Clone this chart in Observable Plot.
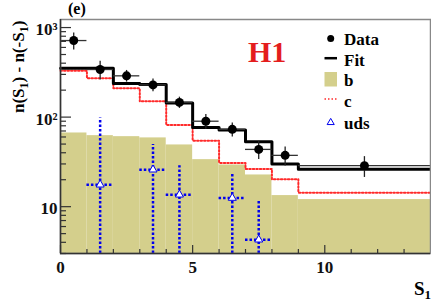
<!DOCTYPE html>
<html><head><meta charset="utf-8">
<script src="https://cdn.jsdelivr.net/npm/d3@7"></script>
<script src="https://cdn.jsdelivr.net/npm/@observablehq/plot@0.6"></script>
<style>
body{margin:0;background:#fff;}
#wrap{position:relative;width:431px;height:301px;overflow:hidden;font-family:"Liberation Serif",serif;}
#wrap svg.ov{position:absolute;left:0;top:0;pointer-events:none;}
#wrap text{font-family:"Liberation Serif",serif;}
</style></head><body><div id="wrap"></div>
<script>
// ---- data ----
const binLo  = [0, 1, 2, 3, 4, 5, 6, 7, 8, 9];
const binHi  = [1, 2, 3, 4, 5, 6, 7, 8, 9, 14];
const dataVal = [716, 340, 289, 229, 146, 90, 73, 43.6, 37.4, 28.7];
const dataErr = [155, 80, 43, 37, 21, 17, 13, 10, 9, 7.5];
const fitVal  = [351, 351, 237, 232, 144, 76.4, 71.9, 53.2, 29.9, 26.2];
const bVal    = [66.5, 62.1, 60.5, 58.6, 48.9, 33.5, 29.2, 22.6, 13.3, 12.0];
const cVal    = [330, 272, 210, 150, 81.8, 54.6, 30.8, 26.4, 20.2, 14.3];
const udsX    = [1.5, 3.5, 4.5, 6.5, 7.5];
const udsVal  = [17.6, 25.9, 13.6, 12.5, 4.28];
const udsErr  = [80, 23.4, 15.1, 10.3, 7.6];
const xMajorTicks = [0, 5, 10];
const xMinorTicks = [1, 2, 3, 4, 6, 7, 8, 9, 11, 12, 13];
const yMajorTicks = [10, 100, 1000];
const yTickLabels = ["10", "10\u00b2", "10\u00b3"];
const yMinorTicks = [3,4,5,6,7,8,9,20,30,40,50,60,70,80,90,200,300,400,500,600,700,800,900];
const yMin = 3, yMax = 1230, xMax = 14;

const bins = binLo.map((lo, i) => ({lo, hi: binHi[i], mid: (lo + binHi[i]) / 2,
  data: dataVal[i], err: dataErr[i], fit: fitVal[i], b: bVal[i], c: cVal[i]}));
const stepPts = vals => binLo.map((lo, i) => ({x: lo, y: vals[i]}))
  .concat([{x: binHi[binHi.length - 1], y: vals[vals.length - 1]}]);
const uds = udsX.map((x, i) => ({x, v: udsVal[i], e: udsErr[i]}));

const olive = "#d4cf8c", red = "#ff2a2a", blue = "#0000ee";
const font = "Liberation Serif";

const chart = Plot.plot({
  width: 431, height: 301,
  marginLeft: 60, marginRight: 1, marginTop: 19, marginBottom: 48,
  style: {fontFamily: font, fontWeight: "bold", background: "#fff", color: "#111"},
  x: {type: "linear", domain: [0, xMax]},
  y: {type: "log", domain: [yMin, yMax]},
  marks: [
    Plot.rect(bins, {x1: "lo", x2: "hi", y1: yMin, y2: "b", fill: olive}),
    Plot.line(stepPts(cVal), {x: "x", y: "y", curve: "step-after", stroke: red, strokeWidth: 2, strokeDasharray: "1.5,2"}),
    Plot.line(stepPts(fitVal), {x: "x", y: "y", curve: "step-after", stroke: "#000", strokeWidth: 3}),
    Plot.ruleX(uds, {x: "x", y1: d => Math.max(yMin, d.v - d.e), y2: d => d.v + d.e, stroke: blue, strokeWidth: 2.5, strokeDasharray: "2.5,2"}),
    Plot.ruleY(uds, {y: "v", x1: d => d.x - 0.5, x2: d => d.x + 0.5, stroke: blue, strokeWidth: 2.5, strokeDasharray: "2.5,2"}),
    Plot.dot(uds, {x: "x", y: "v", symbol: "triangle", r: 3, stroke: blue, strokeWidth: 1, fill: "#fff"}),
    Plot.ruleY(bins, {y: "data", x1: "lo", x2: "hi", stroke: "#333", strokeWidth: 1.3}),
    Plot.ruleX(bins, {x: "mid", y1: d => d.data - d.err, y2: d => d.data + d.err, stroke: "#222", strokeWidth: 1.3}),
    Plot.dot(bins, {x: "mid", y: "data", r: 4.5, fill: "#000"}),
    Plot.frame({stroke: "#888", strokeWidth: 1.5}),
    Plot.ruleX([0], {stroke: "#333", strokeWidth: 1.5}),
    Plot.ruleY([yMin], {stroke: "#333", strokeWidth: 1.5}),
    Plot.axisX({ticks: xMajorTicks, tickSize: -8, fill: "none", stroke: "#333", strokeWidth: 1.2, label: null}),
    Plot.axisX({ticks: xMinorTicks, tickSize: -4, fill: "none", stroke: "#333", strokeWidth: 1.2, label: null}),
    Plot.axisY({ticks: yMajorTicks, tickSize: -11, fill: "none", stroke: "#333", strokeWidth: 1.2, label: null}),
    Plot.axisY({ticks: yMinorTicks, tickSize: -6, fill: "none", stroke: "#333", strokeWidth: 1.2, label: null}),
    Plot.axisX({ticks: xMajorTicks, tickSize: 0, tickPadding: 7, fontSize: 17, fontWeight: "bold", fontFamily: font, fill: "#111", label: null, tickFormat: d => String(d)}),
    Plot.axisY({ticks: yMajorTicks, tickSize: 0, tickPadding: 3, dy: 2, fontSize: 17, fontWeight: "bold", fontFamily: font, fill: "#111", label: null,
      tickFormat: d => yTickLabels[yMajorTicks.indexOf(d)]})
  ]
});
const wrap = document.getElementById("wrap");
wrap.appendChild(chart);

// ---- annotations & legend overlay ----
const ov = d3.select(wrap).append("svg").attr("class", "ov")
  .attr("width", 431).attr("height", 301)
  .attr("font-family", font).attr("font-weight", "bold");
ov.append("text").attr("x", 68).attr("y", 13.5).attr("font-size", 16).text("(e)");
ov.append("text").attr("x", 248).attr("y", 61.5).attr("font-size", 30).attr("fill", "#e41d1d").text("H1");
const sx = ov.append("text").attr("x", 414).attr("y", 295).attr("font-size", 19);
sx.append("tspan").text("S");
sx.append("tspan").attr("font-size", 13).attr("dy", 4).text("1");
const yt = ov.append("text").attr("transform", "translate(24,113) rotate(-90)").attr("font-size", 17);
yt.append("tspan").text("n(S");
yt.append("tspan").attr("font-size", 12).attr("dy", 4).text("1");
yt.append("tspan").attr("dy", -4).text(") - n(-S");
yt.append("tspan").attr("font-size", 12).attr("dy", 4).text("1");
yt.append("tspan").attr("dy", -4).text(")");

const legendNames = ["Data", "Fit", "b", "c", "uds"];
const legendBase = [45, 65.7, 86, 106.5, 129];
const lg = ov.append("g");
legendNames.forEach((name, i) => {
  const cy = legendBase[i] - 6.5;
  if (name === "Data") lg.append("circle").attr("cx", 330.7).attr("cy", cy).attr("r", 3.5).attr("fill", "#000");
  if (name === "Fit") lg.append("line").attr("x1", 324.5).attr("x2", 337).attr("y1", cy - 1).attr("y2", cy - 1).attr("stroke", "#000").attr("stroke-width", 2.5);
  if (name === "b") lg.append("rect").attr("x", 324.5).attr("y", 72).attr("width", 12.5).attr("height", 14.5).attr("fill", olive);
  if (name === "c") lg.append("line").attr("x1", 324.5).attr("x2", 337).attr("y1", cy - 1).attr("y2", cy - 1).attr("stroke", red).attr("stroke-width", 1.5).attr("stroke-dasharray", "1.5,2");
  if (name === "uds") lg.append("path").attr("d", d3.symbol(d3.symbolTriangle, 22)()).attr("transform", `translate(330.7,${cy})`).attr("fill", "none").attr("stroke", blue).attr("stroke-width", 1);
  lg.append("text").attr("x", 344).attr("y", legendBase[i]).attr("font-size", 17).text(name);
});
</script></body></html>
